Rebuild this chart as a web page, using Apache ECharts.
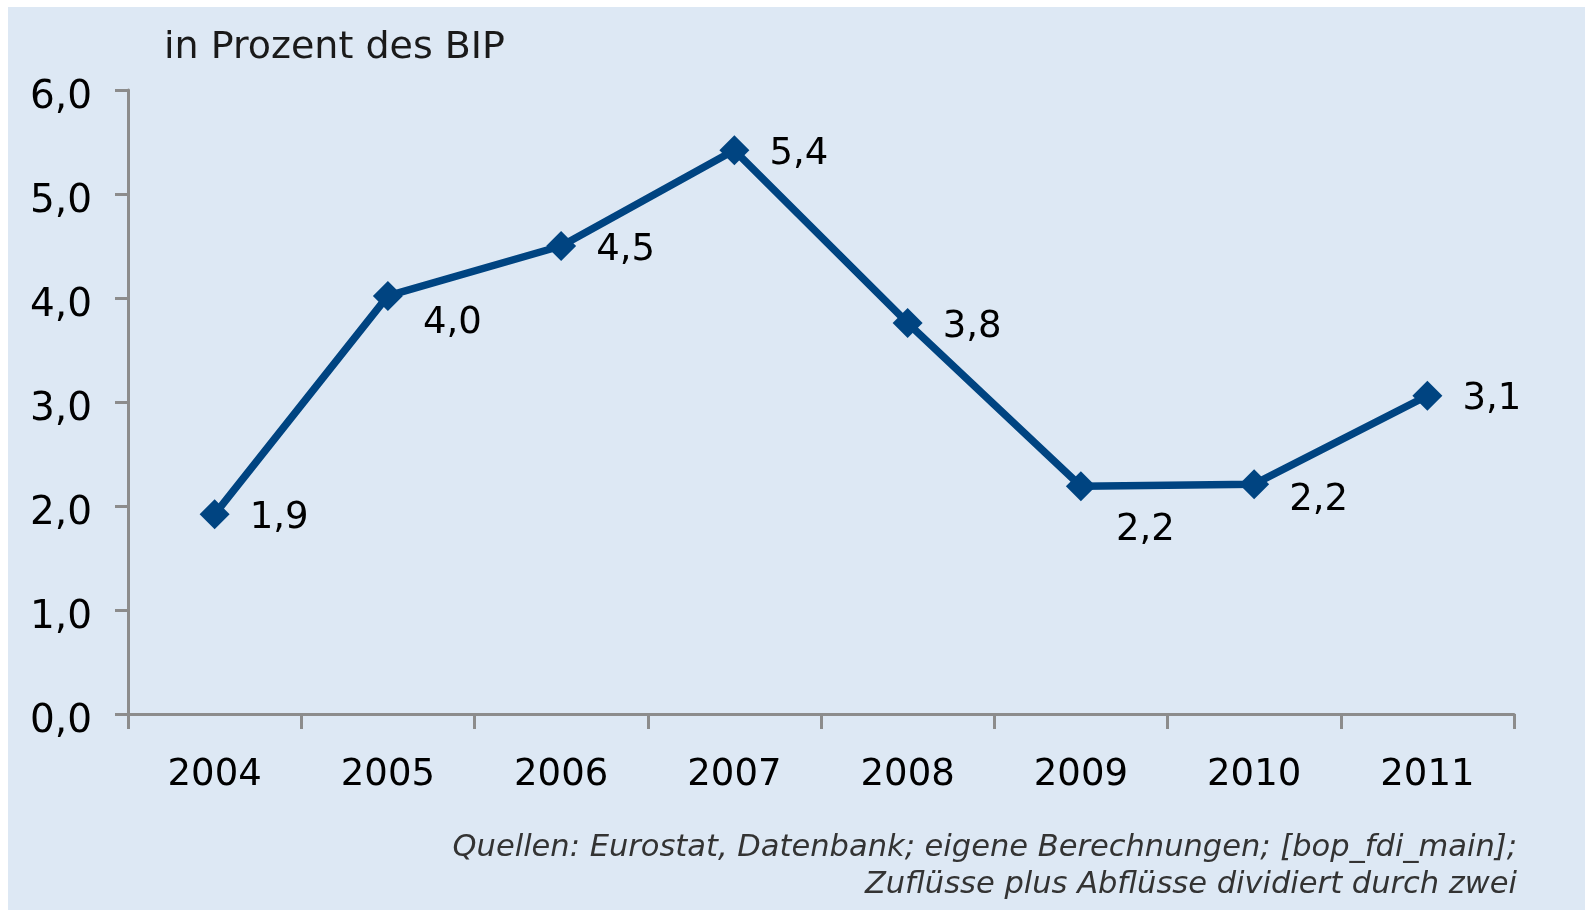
<!DOCTYPE html>
<html>
<head>
<meta charset="utf-8">
<script src="https://cdn.jsdelivr.net/npm/echarts@6/dist/echarts.min.js"></script>
<style>
  html, body { margin: 0; padding: 0; background: #fff; }
  #panel { position: absolute; left: 8px; top: 7px; width: 1577px; height: 903px; background: #dde8f4; }
  #chart-container { position: absolute; left: 0; top: 0; width: 1585px; height: 910px; }
</style>
</head>
<body>
<div id="panel"></div>
<div id="chart-container"></div>
<script>
// Jahre und Werte (in Prozent des BIP)
var years = ['2004', '2005', '2006', '2007', '2008', '2009', '2010', '2011'];
var values = [1.92, 4.02, 4.50, 5.42, 3.76, 2.19, 2.21, 3.06];
var yTicks = [0, 1, 2, 3, 4, 5, 6];
var sourceLines = [
  'Quellen: Eurostat, Datenbank; eigene Berechnungen; [bop_fdi_main];',
  'Zuflüsse plus Abflüsse dividiert durch zwei'
];

var fontName = "'DejaVu Sans', Verdana, sans-serif";
var lineColor = '#004481';
var axisColor = '#8c8c8c';

function fmt(v) {
  return v.toFixed(1).replace('.', ',');
}

// einige Beschriftungen sitzen unterhalb der Linie
var labelShift = { '2005': 23, '2009': 40, '2010': 12 };

var seriesData = values.map(function (v, i) {
  return {
    value: v,
    label: { offset: [0, 4 + (labelShift[years[i]] || 0)] }
  };
});

var myChart = echarts.init(document.getElementById('chart-container'));

var option = {
  backgroundColor: 'transparent',
  animation: false,
  title: {
    text: 'in Prozent des BIP',
    left: 159,
    top: 24,
    textStyle: { fontFamily: fontName, fontSize: 38, fontWeight: 'normal', color: '#1a1a1a' }
  },
  graphic: sourceLines.map(function (t, i) {
    return {
      type: 'text',
      right: 68,
      top: 833 + i * 37,
      style: {
        text: t,
        fontFamily: fontName,
        fontSize: 30.5,
        fontStyle: 'italic',
        fill: '#333'
      }
    };
  }),
  grid: { left: 128, right: 71, top: 90, bottom: 196 },
  xAxis: {
    type: 'category',
    data: years,
    boundaryGap: true,
    axisLine: { lineStyle: { color: axisColor, width: 3 } },
    axisTick: { show: true, length: 15, alignWithLabel: false, lineStyle: { color: axisColor, width: 3 } },
    axisLabel: { fontFamily: fontName, fontSize: 37, color: '#000', margin: 43 },
    splitLine: { show: false }
  },
  yAxis: {
    type: 'value',
    min: yTicks[0],
    max: yTicks[yTicks.length - 1],
    interval: 1,
    axisLine: { show: true, lineStyle: { color: axisColor, width: 3 } },
    axisTick: { show: true, length: 13, lineStyle: { color: axisColor, width: 3 } },
    axisLabel: {
      margin: 36,
      formatter: function (v) { return '{t|' + fmt(v) + '}'; },
      rich: {
        t: { fontFamily: fontName, fontSize: 39, color: '#000', padding: [16, 0, 0, 0] }
      }
    },
    splitLine: { show: false }
  },
  series: [{
    type: 'line',
    data: seriesData,
    symbol: 'diamond',
    symbolSize: 30,
    lineStyle: { color: lineColor, width: 7.5 },
    itemStyle: { color: lineColor },
    label: {
      show: true,
      position: 'right',
      distance: 20,
      fontFamily: fontName,
      fontSize: 37,
      color: '#000',
      formatter: function (p) { return fmt(p.value); }
    }
  }]
};

myChart.setOption(option);
</script>
</body>
</html>
